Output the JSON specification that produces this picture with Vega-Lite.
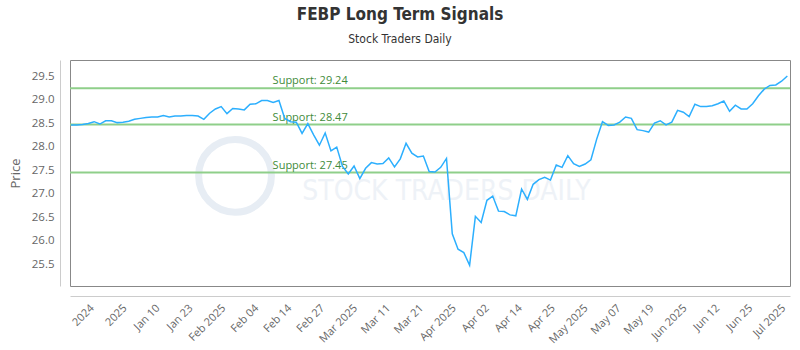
{
  "$schema": "https://vega.github.io/schema/vega-lite/v6.json",
  "width": 720,
  "height": 226,
  "autosize": {"type": "none"},
  "padding": {"left": 70, "top": 60, "right": 10, "bottom": 64},
  "background": "white",
  "title": {
    "text": "FEBP Long Term Signals",
    "subtitle": "Stock Traders Daily",
    "font": "DejaVu Sans Condensed, Liberation Sans Narrow, sans-serif",
    "fontSize": 17,
    "fontWeight": "bold",
    "color": "#333333",
    "subtitleFont": "DejaVu Sans Condensed, Liberation Sans Narrow, sans-serif",
    "subtitleFontSize": 12,
    "subtitleColor": "#333333",
    "subtitlePadding": 10,
    "anchor": "middle",
    "dx": -30,
    "offset": 14
  },
  "config": {
    "view": {"stroke": "#888888", "strokeWidth": 1},
    "axis": {"labelOverlap": false}
  },
  "datasets": {
    "prices": [
      {"i":0,"v":28.46},{"i":1,"v":28.46},{"i":2,"v":28.47},{"i":3,"v":28.49},{"i":4,"v":28.53},
      {"i":5,"v":28.48},{"i":6,"v":28.55},{"i":7,"v":28.55},{"i":8,"v":28.51},{"i":9,"v":28.52},
      {"i":10,"v":28.54},{"i":11,"v":28.58},{"i":12,"v":28.60},{"i":13,"v":28.62},{"i":14,"v":28.63},
      {"i":15,"v":28.63},{"i":16,"v":28.66},{"i":17,"v":28.63},{"i":18,"v":28.65},{"i":19,"v":28.65},
      {"i":20,"v":28.66},{"i":21,"v":28.66},{"i":22,"v":28.65},{"i":23,"v":28.58},{"i":24,"v":28.71},
      {"i":25,"v":28.80},{"i":26,"v":28.85},{"i":27,"v":28.70},{"i":28,"v":28.81},{"i":29,"v":28.80},
      {"i":30,"v":28.78},{"i":31,"v":28.90},{"i":32,"v":28.91},{"i":33,"v":28.98},{"i":34,"v":28.98},
      {"i":35,"v":28.94},{"i":36,"v":28.98},{"i":37,"v":28.60},{"i":38,"v":28.53},{"i":39,"v":28.52},
      {"i":40,"v":28.28},{"i":41,"v":28.49},{"i":42,"v":28.25},{"i":43,"v":28.03},{"i":44,"v":28.29},
      {"i":45,"v":27.91},{"i":46,"v":27.99},{"i":47,"v":27.58},{"i":48,"v":27.42},{"i":49,"v":27.59},
      {"i":50,"v":27.32},{"i":51,"v":27.54},{"i":52,"v":27.66},{"i":53,"v":27.63},{"i":54,"v":27.64},
      {"i":55,"v":27.76},{"i":56,"v":27.57},{"i":57,"v":27.74},{"i":58,"v":28.07},{"i":59,"v":27.86},
      {"i":60,"v":27.78},{"i":61,"v":27.80},{"i":62,"v":27.47},{"i":63,"v":27.46},{"i":64,"v":27.56},
      {"i":65,"v":27.75},{"i":66,"v":26.15},{"i":67,"v":25.82},{"i":68,"v":25.75},{"i":69,"v":25.48},
      {"i":70,"v":26.52},{"i":71,"v":26.39},{"i":72,"v":26.86},{"i":73,"v":26.95},{"i":74,"v":26.63},
      {"i":75,"v":26.62},{"i":76,"v":26.55},{"i":77,"v":26.53},{"i":78,"v":27.10},{"i":79,"v":26.88},
      {"i":80,"v":27.20},{"i":81,"v":27.30},{"i":82,"v":27.35},{"i":83,"v":27.29},{"i":84,"v":27.61},
      {"i":85,"v":27.56},{"i":86,"v":27.81},{"i":87,"v":27.64},{"i":88,"v":27.58},{"i":89,"v":27.63},
      {"i":90,"v":27.72},{"i":91,"v":28.16},{"i":92,"v":28.53},{"i":93,"v":28.45},{"i":94,"v":28.46},
      {"i":95,"v":28.52},{"i":96,"v":28.63},{"i":97,"v":28.60},{"i":98,"v":28.36},{"i":99,"v":28.34},
      {"i":100,"v":28.31},{"i":101,"v":28.50},{"i":102,"v":28.55},{"i":103,"v":28.46},{"i":104,"v":28.52},
      {"i":105,"v":28.77},{"i":106,"v":28.73},{"i":107,"v":28.64},{"i":108,"v":28.90},{"i":109,"v":28.85},
      {"i":110,"v":28.85},{"i":111,"v":28.87},{"i":112,"v":28.91},{"i":113,"v":28.97},{"i":114,"v":28.75},
      {"i":115,"v":28.88},{"i":116,"v":28.80},{"i":117,"v":28.80},{"i":118,"v":28.91},{"i":119,"v":29.08},
      {"i":120,"v":29.22},{"i":121,"v":29.30},{"i":122,"v":29.31},{"i":123,"v":29.39},{"i":124,"v":29.50}
    ],
    "supports": [
      {"v": 29.24, "label": "Support: 29.24"},
      {"v": 28.47, "label": "Support: 28.47"},
      {"v": 27.45, "label": "Support: 27.45"}
    ]
  },
  "layer": [
    {
      "data": {"values": [{}]},
      "mark": {"type": "point", "shape": "circle", "filled": false, "size": 5300, "strokeWidth": 7, "color": "#e7edf4", "opacity": 1},
      "encoding": {
        "x": {"datum": 28.4, "type": "quantitative", "scale": {"domain": [-0.17, 124.46], "nice": false, "zero": false}},
        "y": {"datum": 27.38, "type": "quantitative", "scale": {"domain": [25.04, 29.84], "nice": false, "zero": false}}
      }
    },
    {
      "data": {"values": [{}]},
      "mark": {"type": "text", "text": "STOCK TRADERS DAILY", "font": "Liberation Sans Narrow, DejaVu Sans Condensed, sans-serif", "fontSize": 28, "color": "#eef2f7", "align": "center", "baseline": "middle"},
      "encoding": {
        "x": {"datum": 65, "type": "quantitative", "scale": {"domain": [-0.17, 124.46], "nice": false, "zero": false}},
        "y": {"datum": 27.03, "type": "quantitative", "scale": {"domain": [25.04, 29.84], "nice": false, "zero": false}}
      }
    },
    {
      "data": {"name": "supports"},
      "mark": {"type": "rule", "color": "#8fcf8a", "strokeWidth": 2},
      "encoding": {
        "y": {"field": "v", "type": "quantitative", "scale": {"domain": [25.04, 29.84], "nice": false, "zero": false}}
      }
    },
    {
      "data": {"name": "supports"},
      "mark": {"type": "text", "align": "left", "baseline": "bottom", "dy": -2, "color": "#3f8b3a", "font": "Open Sans", "fontSize": 11},
      "encoding": {
        "x": {"datum": 34.9, "type": "quantitative", "scale": {"domain": [-0.17, 124.46], "nice": false, "zero": false}},
        "y": {"field": "v", "type": "quantitative", "scale": {"domain": [25.04, 29.84], "nice": false, "zero": false}},
        "text": {"field": "label"}
      }
    },
    {
      "data": {"name": "prices"},
      "mark": {"type": "line", "color": "#2caffe", "strokeWidth": 1.5},
      "encoding": {
        "x": {
          "field": "i",
          "type": "quantitative",
          "scale": {"domain": [-0.17, 124.46], "nice": false, "zero": false},
          "axis": {
            "title": null,
            "values": [2.9, 8.6, 14.3, 20.0, 25.7, 31.4, 37.1, 42.8, 48.5, 54.2, 59.9, 65.6, 71.3, 77.0, 82.7, 88.4, 94.1, 99.8, 105.5, 111.2, 116.9, 122.6],
            "tickCount": 40,
            "labelExpr": "['2024','2025','Jan 10','Jan 23','Feb 2025','Feb 04','Feb 14','Feb 27','Mar 2025','Mar 11','Mar 21','Apr 2025','Apr 02','Apr 14','Apr 25','May 2025','May 07','May 19','Jun 2025','Jun 12','Jun 25','Jul 2025'][round((datum.value - 2.9) / 5.7)]",
            "labelAngle": -45,
            "labelOverlap": false,
            "labelFlush": false,
            "labelBound": false,
            "ticks": false,
            "grid": false,
            "offset": 10,
            "domainColor": "#cccccc",
            "labelFont": "Open Sans",
            "labelFontSize": 11,
            "labelColor": "#666666",
            "labelPadding": 6
          }
        },
        "y": {
          "field": "v",
          "type": "quantitative",
          "scale": {"domain": [25.04, 29.84], "nice": false, "zero": false},
          "axis": {
            "title": "Price",
            "values": [25.5, 26, 26.5, 27, 27.5, 28, 28.5, 29, 29.5],
            "tickCount": 20,
            "format": ".1f",
            "ticks": false,
            "offset": 10,
            "domainColor": "#cccccc",
            "gridColor": "#e6e6e6",
            "labelFont": "Open Sans",
            "labelFontSize": 11.5,
            "labelColor": "#666666",
            "labelPadding": 6,
            "titleFont": "Open Sans",
            "titleFontSize": 13,
            "titleFontWeight": "normal",
            "titleColor": "#666666",
            "titlePadding": 9
          }
        }
      }
    }
  ]
}
